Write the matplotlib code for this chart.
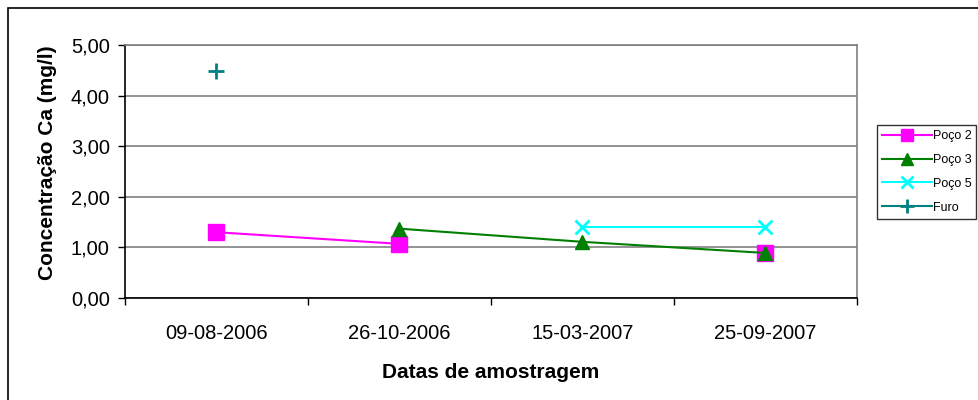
import matplotlib
matplotlib.use("Agg")
import matplotlib.pyplot as plt
import numpy as np
from matplotlib.patches import Rectangle

plt.rcParams['font.family'] = ['Liberation Sans', 'DejaVu Sans']

categories = ["09-08-2006", "26-10-2006", "15-03-2007", "25-09-2007"]
poco2 = [1.30, 1.07, np.nan, 0.89]
poco3 = [np.nan, 1.37, 1.11, 0.89]
poco5 = [np.nan, np.nan, 1.41, 1.41]
furo = [4.48, np.nan, np.nan, np.nan]
yticks = [0, 1, 2, 3, 4, 5]
ytick_labels = ["0,00", "1,00", "2,00", "3,00", "4,00", "5,00"]

W, H = 979, 400
fig = plt.figure(figsize=(W/100, H/100), dpi=100)
ax = fig.add_axes([125/W, 1-298/H, (857-125)/W, (298-45)/H])

x = np.arange(len(categories))
ax.plot(x, poco2, color='#FF00FF', marker='s', markersize=11, lw=1.5, label='Poço 2', zorder=3)
ax.plot(x, poco3, color='#008000', marker='^', markersize=10, lw=1.5, label='Poço 3', zorder=4)
ax.plot(x, poco5, color='#00FFFF', marker='x', markersize=10, mew=2, lw=1.5, label='Poço 5', zorder=3)
ax.plot(x, furo, color='#008080', marker='+', markersize=12, mew=2, lw=1.5, label='Furo', zorder=3)

ax.set_xlim(-0.5, len(categories)-0.5)
ax.set_ylim(0, 5)
ax.set_yticks(yticks)
ax.set_yticklabels(ytick_labels, fontsize=14.5)
ax.set_xticks(x)
ax.set_xticklabels(categories, fontsize=14.5)
ax.set_xticks(np.arange(len(categories)+1)-0.5, minor=True)
ax.tick_params(axis='x', which='major', length=0, pad=19)
ax.tick_params(axis='x', which='minor', length=5, direction='out', width=1)
ax.tick_params(axis='y', length=5, direction='out', width=1, pad=6)
ax.yaxis.grid(True, color='#808080', lw=1.2)
ax.set_axisbelow(True)
for s in ['top', 'right']:
    ax.spines[s].set_color('#808080')
    ax.spines[s].set_linewidth(1.2)
for s in ['left', 'bottom']:
    ax.spines[s].set_color('black')
    ax.spines[s].set_linewidth(1.2)

ax.set_xlabel("Datas de amostragem", fontsize=15, fontweight='bold', labelpad=14)
ax.set_ylabel("Concentração Ca (mg/l)", fontsize=15, fontweight='bold')
ax.yaxis.set_label_coords((57 - 125) / (857 - 125), (298 - 163) / (298 - 45))

leg = fig.legend(loc='upper left', bbox_to_anchor=(877/W, 1-125/H), fontsize=9,
                 frameon=True, fancybox=False, edgecolor='black', handlelength=4.0,
                 markerscale=0.85, borderpad=0.4, labelspacing=0.95, handletextpad=0.05,
                 borderaxespad=0)
leg.get_frame().set_linewidth(1)

fig.patches.append(Rectangle((8/W, -0.1), 1.2, 1-8/H+0.1, transform=fig.transFigure,
                             fill=False, edgecolor='black', lw=1.2))

fig.savefig("out.png", dpi=100)
